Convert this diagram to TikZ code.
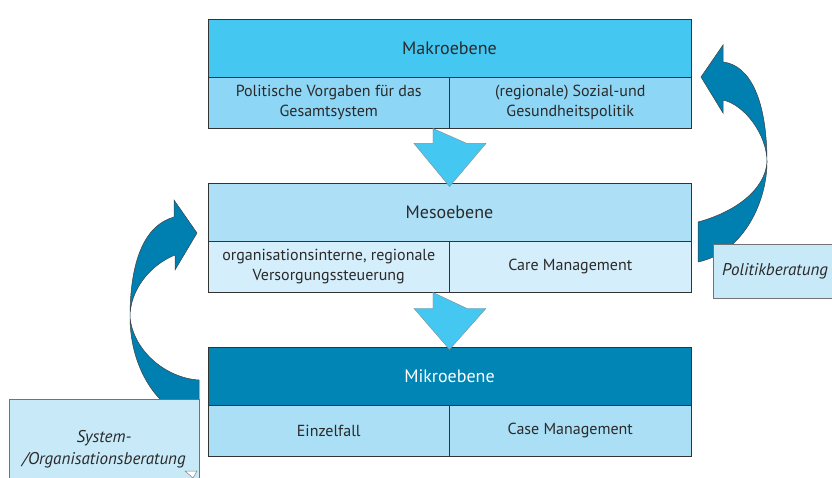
\documentclass[tikz,border=0pt]{standalone}
\usepackage{fontspec}
\setmainfont{PT Sans}
\usetikzlibrary{calc}

\definecolor{makrotitel}{HTML}{44C8F2}
\definecolor{makrozelle}{HTML}{8ED6F5}
\definecolor{mesotitel}{HTML}{ADE0F7}
\definecolor{mesozelle}{HTML}{D5EEFB}
\definecolor{mikrotitel}{HTML}{0085B5}
\definecolor{mikrozelle}{HTML}{ABDFF6}
\definecolor{hinweisfarbe}{HTML}{C8E9F8}
\definecolor{bogenfarbe}{HTML}{0080B0}
\definecolor{schrift}{HTML}{2A2A2A}

\begin{document}
\begin{tikzpicture}[
       x=1pt,y=-1pt,
       ebene/.style={
         rectangle,
         draw=black!80,
         line width=0.9pt,
         inner sep=0pt,
         minimum width=483pt,
         minimum height=58pt,
         text=schrift,
         font=\fontsize{18}{21}\selectfont
       },
       zelle/.style={
         rectangle,
         draw=black!80,
         line width=0.9pt,
         inner sep=0pt,
         minimum width=241.5pt,
         minimum height=51pt,
         align=center,
         text=schrift,
         font=\fontsize{16}{20}\selectfont
       },
       hinweis/.style={
         rectangle,
         draw=black!55,
         line width=0.7pt,
         fill=hinweisfarbe,
         inner sep=0pt,
         align=center,
         text=schrift,
         font=\fontsize{17}{22}\selectfont\itshape
       },
       abwaerts/.style={
         fill=makrotitel,
         draw=black!45,
         line width=0.4pt,
         line join=miter
       },
       bogen/.style={
         fill=bogenfarbe,
         draw=black!75,
         line width=0.5pt
       }
     ]

       \useasboundingbox (0,0) rectangle (832,478);

       % Makroebene
       \node (makro) at (449.5,48) [ebene,fill=makrotitel]{Makroebene};
       \node (makroL) at (328.75,102.5) [zelle,fill=makrozelle]{Politische Vorgaben für das\\Gesamtsystem};
       \node (makroR) at (570.25,102.5) [zelle,fill=makrozelle]{(regionale) Sozial-und\\Gesundheitspolitik};

       % Mesoebene
       \node (meso) at (449.5,212) [ebene,fill=mesotitel]{Mesoebene};
       \node (mesoL) at (328.75,266.5) [zelle,fill=mesozelle]{organisationsinterne, regionale\\Versorgungssteuerung};
       \node (mesoR) at (570.25,266.5) [zelle,fill=mesozelle]{Care Management};

       % Mikroebene
       \node (mikro) at (449.5,376) [ebene,fill=mikrotitel,text=white]{Mikroebene};
       \node (mikroL) at (328.75,430.5) [zelle,fill=mikrozelle]{Einzelfall};
       \node (mikroR) at (570.25,430.5) [zelle,fill=mikrozelle]{Case Management};

       % Pfeile nach unten
       \draw[abwaerts] ($(makroL.south east)+(-17,0)$) -- ($(makroL.south east)+(-17,15)$)
         -- ($(makroL.south east)+(-36,15)$) -- ($(meso.north)+(0,4)$)
         -- ($(makroL.south east)+(36,15)$) -- ($(makroL.south east)+(17,15)$) -- cycle;
       \draw[abwaerts] ($(mesoL.south east)+(-17,0)$) -- ($(mesoL.south east)+(-17,16)$)
         -- ($(mesoL.south east)+(-36,16)$) -- ($(mikro.north)+(0,3)$)
         -- ($(mesoL.south east)+(36,16)$) -- ($(mesoL.south east)+(17,16)$) -- cycle;

       % Bogen rechts: Meso -> Makro
       \draw[bogen] (698,222) .. controls (735,212) and (765,190) .. (767,162)
         .. controls (767,135) and (745,105) .. (723,100)
         -- (723,113) -- (701,77) -- (723,45) -- (723,62)
         .. controls (750,65) and (767,100) .. (767,162)
         .. controls (767,200) and (745,252) .. (698,262) -- cycle;

       % Bogen links: Mikro -> Meso
       \draw[bogen] (199,380) .. controls (165,378) and (133,350) .. (130,317)
         .. controls (130,290) and (150,265) .. (175,255)
         -- (175,270) -- (197,233) -- (174,200) -- (174,217)
         .. controls (145,225) and (130,260) .. (130,317)
         .. controls (130,370) and (160,415) .. (199,420) -- cycle;

       % Beratung
       \node (politik) at (775,271) [hinweis,minimum width=124pt,minimum height=54pt]{Politikberatung};
       \node (system) at (104,449) [hinweis,minimum width=190pt,minimum height=100pt]{System-\\/Organisationsberatung};
       \draw[fill=white,draw=black!50,line width=0.5pt] (185,471) -- (197,471) -- (193,478) -- cycle;

\end{tikzpicture}
\end{document}
